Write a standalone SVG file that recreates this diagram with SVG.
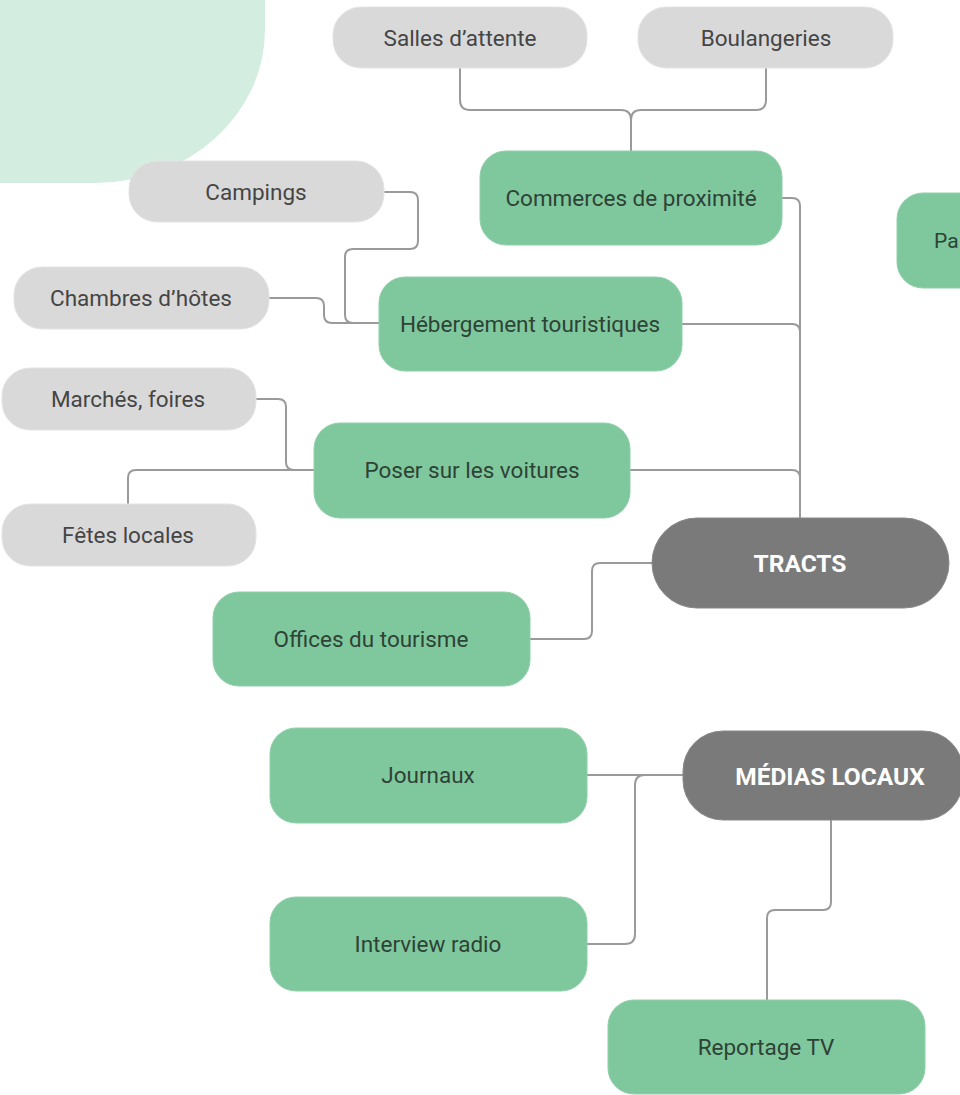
<svg xmlns="http://www.w3.org/2000/svg" width="960" height="1095" viewBox="0 0 960 1095">
<style>
.bg{fill:#d3eee0}
.g{fill:#d9d9d9;stroke:#e4e4e4;stroke-width:1}
.n{fill:#7fc89d;stroke:#8fd0a9;stroke-width:1}
.d{fill:#7a7a7a;stroke:#888;stroke-width:1}
.tg{font-family:Roboto,"Liberation Sans",sans-serif;font-size:22.5px;fill:#454545;text-anchor:middle;dominant-baseline:central}
.tn{font-family:Roboto,"Liberation Sans",sans-serif;font-size:22.5px;fill:#2e4236;text-anchor:middle;dominant-baseline:central}
.td{font-family:Roboto,"Liberation Sans",sans-serif;font-size:24.5px;font-weight:bold;fill:#ffffff;text-anchor:middle;dominant-baseline:central}
.c{fill:none;stroke:#9a9a9a;stroke-width:2}
</style>
<path class="bg" d="M0,0 H265 V30 A170,153 0 0 1 95,183 H0 Z"/>
<g id="connectors">
<path class="c" d="M460,68 V100 q0,10 10,10 H621 q10,0 10,10 V151"/>
<path class="c" d="M766,68 V100 q0,10 -10,10 H641 q-10,0 -10,10"/>
<path class="c" d="M782,198 H792 q8,0 8,8 V518"/>
<path class="c" d="M682,324 H792 q8,0 8,8"/>
<path class="c" d="M630,470 H792 q8,0 8,8"/>
<path class="c" d="M384,192 H410 q8,0 8,8 V241 q0,8 -8,8 H353 q-8,0 -8,8 V315 q0,8 8,8 H379"/>
<path class="c" d="M269,298 H316 q8,0 8,8 V315 q0,8 8,8 H379"/>
<path class="c" d="M256,399 H278 q8,0 8,8 V462 q0,8 8,8 H314"/>
<path class="c" d="M128,504 V478 q0,-8 8,-8 H314"/>
<path class="c" d="M652,563 H600 q-8,0 -8,8 V631 q0,8 -8,8 H530"/>
<path class="c" d="M683,775 H587"/>
<path class="c" d="M645,775 q-10,0 -10,10 V934 q0,10 -10,10 H587"/>
<path class="c" d="M831,820 V902 q0,8 -8,8 H775 q-8,0 -8,8 V1000"/>
</g>
<g id="salles"><rect class="g" x="333" y="7" width="254" height="61" rx="28"/><text class="tg" x="460" y="38">Salles d’attente</text></g>
<g id="boulangeries"><rect class="g" x="638" y="7" width="255" height="61" rx="28"/><text class="tg" x="766" y="38">Boulangeries</text></g>
<g id="commerces"><rect class="n" x="480" y="151" width="302" height="94" rx="26"/><text class="tn" x="631" y="198">Commerces de proximité</text></g>
<g id="campings"><rect class="g" x="129" y="161" width="255" height="61" rx="28"/><text class="tg" x="256" y="192">Campings</text></g>
<g id="chambres"><rect class="g" x="14" y="267" width="255" height="62" rx="28"/><text class="tg" x="141" y="298">Chambres d’hôtes</text></g>
<g id="hebergement"><rect class="n" x="379" y="277" width="303" height="94" rx="26"/><text class="tn" x="530" y="324">Hébergement touristiques</text></g>
<g id="marches"><rect class="g" x="2" y="368" width="254" height="62" rx="28"/><text class="tg" x="128" y="399">Marchés, foires</text></g>
<g id="poser"><rect class="n" x="314" y="423" width="316" height="95" rx="26"/><text class="tn" x="472" y="470">Poser sur les voitures</text></g>
<g id="fetes"><rect class="g" x="2" y="504" width="254" height="62" rx="28"/><text class="tg" x="128" y="535">Fêtes locales</text></g>
<g id="tracts"><rect class="d" x="652" y="518" width="297" height="90" rx="45"/><text class="td" x="800" y="563">TRACTS</text></g>
<g id="offices"><rect class="n" x="213" y="592" width="317" height="94" rx="26"/><text class="tn" x="371" y="639">Offices du tourisme</text></g>
<g id="pa"><rect class="n" x="897" y="193" width="120" height="95" rx="26"/><text class="tn" x="934" y="241" style="text-anchor:start;font-size:21px">Pa</text></g>
<g id="journaux"><rect class="n" x="270" y="728" width="317" height="95" rx="26"/><text class="tn" x="428" y="775">Journaux</text></g>
<g id="medias"><rect class="d" x="683" y="731" width="280" height="89" rx="40"/><text class="td" x="830" y="776">MÉDIAS LOCAUX</text></g>
<g id="interview"><rect class="n" x="270" y="897" width="317" height="94" rx="26"/><text class="tn" x="428" y="944">Interview radio</text></g>
<g id="reportage"><rect class="n" x="608" y="1000" width="317" height="94" rx="26"/><text class="tn" x="766" y="1047">Reportage TV</text></g>
</svg>
